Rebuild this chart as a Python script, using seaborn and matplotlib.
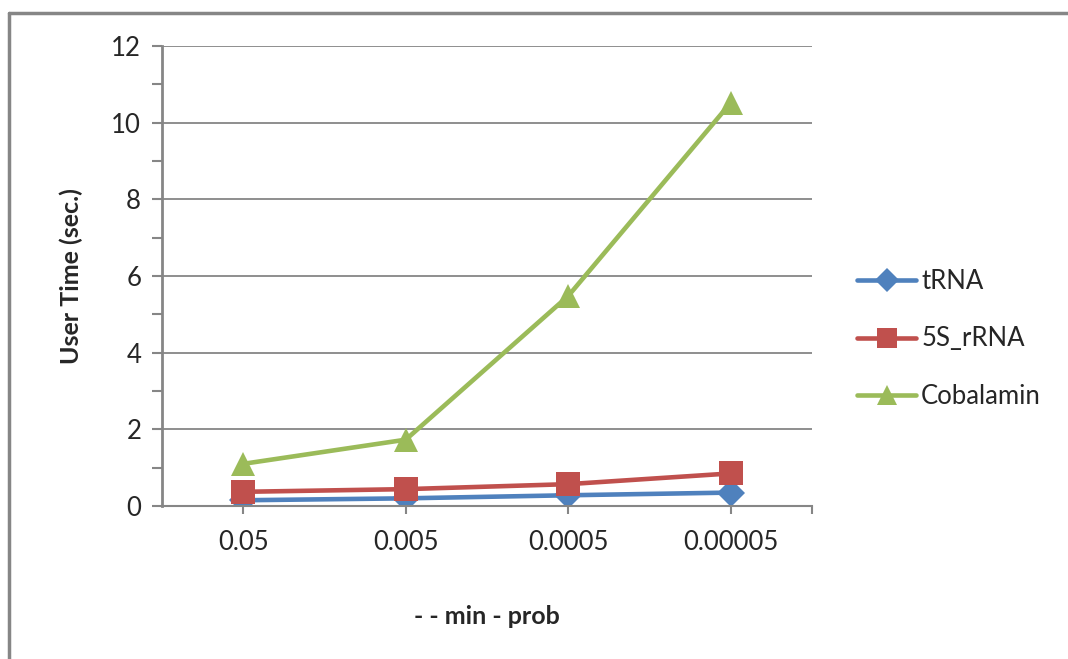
import pandas as pd
import matplotlib.pyplot as plt
import matplotlib.lines as mlines
import seaborn as sns

# Data
min_prob = ['0.05', '0.005', '0.0005', '0.00005']
trna = [0.15, 0.2, 0.28, 0.35]
rrna_5s = [0.37, 0.44, 0.57, 0.85]
cobalamin = [1.1, 1.73, 5.48, 10.52]

series_names = ['tRNA', '5S_rRNA', 'Cobalamin']
series_values = [trna, rrna_5s, cobalamin]

rows = []
for name, vals in zip(series_names, series_values):
    for p, v in zip(min_prob, vals):
        rows.append({'min_prob': p, 'time': v, 'series': name})
df = pd.DataFrame(rows)

sns.set_style('white')
plt.rcParams['font.family'] = ['Lato', 'DejaVu Sans']

palette = {'tRNA': '#4F81BD', '5S_rRNA': '#C0504D', 'Cobalamin': '#9BBB59'}
markers = {'tRNA': 'D', '5S_rRNA': 's', 'Cobalamin': '^'}
msize = {'tRNA': 14, '5S_rRNA': 17, 'Cobalamin': 17}

fig = plt.figure(figsize=(10.68, 6.59), dpi=100)
ax = fig.add_axes([162 / 1068, 1 - 506 / 659, 650 / 1068, 460 / 659])

for name in series_names:
    sub = df[df['series'] == name]
    sns.lineplot(data=sub, x='min_prob', y='time', ax=ax, color=palette[name],
                 marker=markers[name], markersize=msize[name], markeredgewidth=0,
                 linewidth=3.3, label=name, sort=False)

gray = '#868686'
ax.set_xlim(-0.5, 3.5)
ax.set_ylim(0, 12)
ax.set_yticks(range(0, 13, 2))
ax.set_yticks(range(0, 13), minor=True)
ax.set_xticks(range(4))
ax.set_xticklabels(min_prob)
ax.set_xticks([3.5], minor=True)
ax.yaxis.grid(True, which='major', color=gray, linewidth=1.3)
ax.set_axisbelow(True)
for s in ['top', 'right']:
    ax.spines[s].set_visible(False)
ax.spines['left'].set_color(gray)
ax.spines['left'].set_linewidth(2)
ax.spines['bottom'].set_color(gray)
ax.spines['bottom'].set_linewidth(1.5)
ax.tick_params(axis='y', which='both', direction='out', length=7, width=1.5,
               color=gray, left=True, labelsize=18.5, pad=8)
ax.tick_params(axis='x', which='both', direction='out', length=6, width=1.5,
               color=gray, bottom=True, labelsize=18.5, pad=11)

ax.set_xlabel('- - min - prob', fontsize=18, fontweight='bold', labelpad=36)
ax.set_ylabel('User Time (sec.)', fontsize=18, fontweight='bold', labelpad=20)

ax.legend_.remove()
handles = [mlines.Line2D([], [], color=palette[n], marker=markers[n],
                         markersize=msize[n] * 0.85, markeredgewidth=0, linewidth=3.3)
           for n in series_names]
fig.legend(handles, series_names, loc='center left',
           bbox_to_anchor=(857 / 1068, 1 - 339 / 659), frameon=False,
           fontsize=18.5, handlelength=2.3, handletextpad=0.2, labelspacing=1.25,
           borderpad=0, borderaxespad=0)

# chart border (left and top edges visible)
fig.add_artist(mlines.Line2D([9 / 1068, 9 / 1068], [0, 1 - 13 / 659],
                             color=gray, linewidth=2.5, transform=fig.transFigure))
fig.add_artist(mlines.Line2D([9 / 1068, 1], [1 - 13 / 659, 1 - 13 / 659],
                             color=gray, linewidth=2.5, transform=fig.transFigure))

fig.savefig('out.png', dpi=100)
